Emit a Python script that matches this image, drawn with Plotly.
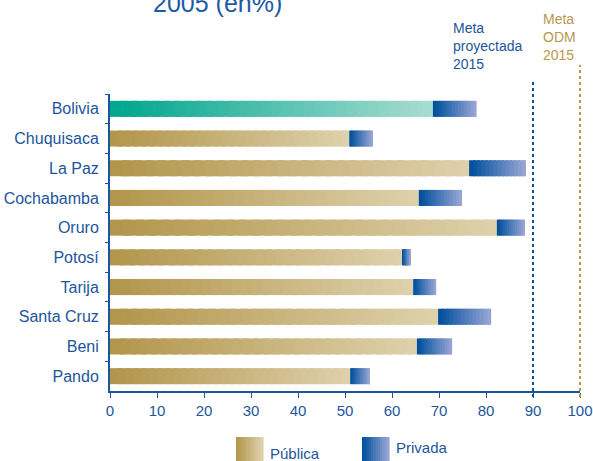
import plotly.graph_objects as go

categories = ["Bolivia", "Chuquisaca", "La Paz", "Cochabamba", "Oruro",
              "Potosí", "Tarija", "Santa Cruz", "Beni", "Pando"]
publica = [68.7, 50.9, 76.4, 65.7, 82.3, 62.3, 64.5, 69.8, 65.3, 51.1]
privada = [9.3, 5.0, 12.1, 9.2, 6.0, 1.7, 4.9, 11.3, 7.5, 4.2]
meta_proyectada = 90
meta_odm = 100
x_ticks = [0, 10, 20, 30, 40, 50, 60, 70, 80, 90, 100]
x_range = [0, 100]

BLUE = "#1d559c"
FONT = "Liberation Sans, Arial, sans-serif"

def lerp(c1, c2, t):
    return "rgb(%d,%d,%d)" % tuple(round(a + (b - a) * t) for a, b in zip(c1, c2))

def xpaper(v):
    return (v - x_range[0]) / (x_range[1] - x_range[0])

gold_a, gold_b = (178, 150, 76), (222, 208, 170)
teal_a, teal_b = (0, 166, 142), (166, 220, 208)
blue_a, blue_b = (0, 80, 156), (150, 164, 212)

fig = go.Figure()
N = 30
for k in range(N):
    t = k / (N - 1)
    cols = [lerp(teal_a, teal_b, t) if c == "Bolivia" else lerp(gold_a, gold_b, t)
            for c in categories]
    ext = 1 if k == N - 1 else 1.6
    fig.add_trace(go.Bar(
        y=categories, x=[p * ext / N for p in publica], base=[p * k / N for p in publica],
        orientation="h", marker=dict(color=cols, line=dict(width=0)),
        showlegend=False, hoverinfo="skip"))
M = 14
for k in range(M):
    t = k / (M - 1)
    ext = 1 if k == M - 1 else 1.6
    fig.add_trace(go.Bar(
        y=categories, x=[v * ext / M for v in privada],
        base=[p + v * k / M for p, v in zip(publica, privada)],
        orientation="h", marker=dict(color=lerp(blue_a, blue_b, t), line=dict(width=0)),
        showlegend=False, hoverinfo="skip"))

# target lines
fig.add_shape(type="line", xref="paper", yref="paper", x0=xpaper(meta_proyectada),
              x1=xpaper(meta_proyectada), y0=-0.02, y1=1.047,
              line=dict(color="#0d4f9a", width=2, dash="dot"))
fig.add_shape(type="line", xref="paper", yref="paper", x0=xpaper(meta_odm), x1=xpaper(meta_odm),
              y0=-0.02, y1=1.098, line=dict(color="#b8974f", width=2, dash="dot"))

fig.add_annotation(xref="paper", yref="paper", x=(451 - 110) / 470, y=(391 - 46) / 297,
                   xanchor="left", yanchor="middle", align="left", showarrow=False,
                   text="Meta<br>proyectada<br>2015",
                   font=dict(family=FONT, size=14, color="#1d559c"))
fig.add_annotation(xref="paper", yref="paper", x=(541 - 110) / 470, y=(391 - 37) / 297,
                   xanchor="left", yanchor="middle", align="left", showarrow=False,
                   text="Meta<br>ODM<br>2015",
                   font=dict(family=FONT, size=14, color="#b8974f"))
fig.add_annotation(xref="paper", yref="paper", x=(217 - 110) / 470, y=(391 - 3) / 297,
                   xanchor="center", yanchor="middle", showarrow=False,
                   text="2005 (en%)", font=dict(family=FONT, size=25, color="#1d5aa3"))

# custom legend swatches
S = 12
for i in range(S):
    t = i / (S - 1)
    for (x0, ca, cb) in [(236, gold_a, gold_b), (362, blue_a, blue_b)]:
        w = 27 / S
        fig.add_shape(type="rect", xref="paper", yref="paper",
                      x0=(x0 + i * w - 110) / 470, x1=(x0 + (i + 1) * w + 0.6 - 110) / 470,
                      y0=(391 - 465) / 297, y1=(391 - 437) / 297,
                      line=dict(width=0), fillcolor=lerp(ca, cb, t), layer="above")
fig.add_annotation(xref="paper", yref="paper", x=(268 - 110) / 470, y=(391 - 453) / 297,
                   xanchor="left", yanchor="middle", showarrow=False, text="Pública",
                   font=dict(family=FONT, size=15, color=BLUE))
fig.add_annotation(xref="paper", yref="paper", x=(394 - 110) / 470, y=(391 - 447) / 297,
                   xanchor="left", yanchor="middle", showarrow=False, text="Privada",
                   font=dict(family=FONT, size=15, color=BLUE))

fig.update_layout(
    width=593, height=461, barmode="overlay", bargap=0.46,
    margin=dict(l=110, r=13, t=94, b=70, autoexpand=False),
    paper_bgcolor="white", plot_bgcolor="white",
    font=dict(family=FONT, size=15, color=BLUE),
    xaxis=dict(range=x_range, tickvals=x_ticks, showgrid=False, zeroline=False,
               showline=True, linecolor=BLUE, linewidth=2, ticks="outside", automargin=False,
               ticklen=5, tickcolor=BLUE, tickwidth=1, tickfont=dict(size=15, color=BLUE)),
    yaxis=dict(categoryorder="array", categoryarray=categories, autorange="reversed",
               showgrid=False, zeroline=False, showline=True, linecolor=BLUE, linewidth=2,
               ticks="outside", tickson="boundaries", ticklen=3, tickcolor=BLUE, automargin=False,
               tickfont=dict(size=16, color=BLUE), ticklabelstandoff=6),
)

fig.write_html("out.html", config={"displayModeBar": False},
               post_script="document.body.style.margin='0';document.body.style.overflow='hidden';")
